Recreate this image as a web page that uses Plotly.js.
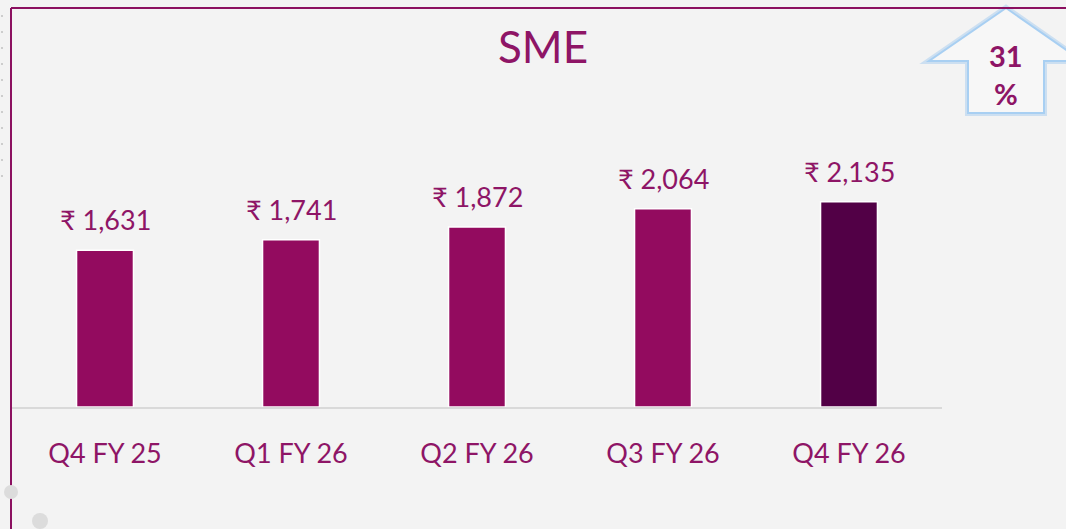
<!DOCTYPE html>
<html>
<head>
<meta charset="utf-8">
<script src="https://cdn.plot.ly/plotly-3.0.1.min.js"></script>
<style>html,body{margin:0;padding:0;background:#f3f3f3;}#chart{width:1066px;height:529px;}</style>
</head>
<body>
<div id="chart"></div>
<script>
const categories = ["Q4 FY 25", "Q1 FY 26", "Q2 FY 26", "Q3 FY 26", "Q4 FY 26"];
const values = [1631, 1741, 1872, 2064, 2135];
const barColors = ["#930B5F", "#930B5F", "#930B5F", "#930B5F", "#520046"];
const growthText = "31<br>%";
const titleText = "SME";

const W = 1066, H = 529;
const M = {l: 12, r: 124, t: 100, b: 122};
const pw = W - M.l - M.r, ph = H - M.t - M.b;
const px = x => (x - M.l) / pw;
const py = y => (H - M.b - y) / ph;

const purple = "#8E1566";
const font = "Lato, 'Noto Sans', 'DejaVu Sans', sans-serif";

const trace = {
  type: "bar",
  x: categories,
  y: values,
  marker: {color: barColors, line: {color: "#ffffff", width: 1.5}},
  hoverinfo: "none"
};

const annotations = categories.map((c, i) => ({
  x: c, y: values[i], xref: "x", yref: "y",
  text: "₹ " + values[i].toLocaleString("en-US"),
  showarrow: false, yanchor: "bottom", yshift: 12,
  font: {family: font, size: 27, color: purple}
}));

annotations.push({
  xref: "paper", yref: "paper", x: px(1006), y: py(75),
  text: "<b>" + growthText + "</b>", showarrow: false,
  xanchor: "center", yanchor: "middle", align: "center",
  font: {family: font, size: 29, color: purple}
});

function path(pts){ return "M" + pts.map(p => px(p[0]) + "," + py(p[1])).join(" L") + " Z"; }
const arrowPts = [[1006,8],[1082,61],[1044,61],[1044,113],[968,113],[968,61],[929,61]];

const shapes = [
  {type: "path", xref: "paper", yref: "paper", path: path(arrowPts),
   fillcolor: "rgba(0,0,0,0)", line: {color: "rgba(157,200,240,0.45)", width: 6}, layer: "above"},
  {type: "path", xref: "paper", yref: "paper", path: path(arrowPts),
   fillcolor: "#f7f7f7", line: {color: "#a8cff2", width: 2}, layer: "above"},
  {type: "line", xref: "paper", yref: "paper", x0: px(11), x1: px(1070), y0: py(8), y1: py(8),
   line: {color: "#8B1060", width: 2}},
  {type: "line", xref: "paper", yref: "paper", x0: px(11), x1: px(11), y0: py(8), y1: py(535),
   line: {color: "#8B1060", width: 2}},
  {type: "circle", xref: "paper", yref: "paper", x0: px(4), x1: px(18), y0: py(485), y1: py(499),
   fillcolor: "#dcdcdc", line: {width: 0}},
  {type: "circle", xref: "paper", yref: "paper", x0: px(32), x1: px(48), y0: py(513), y1: py(529),
   fillcolor: "#dcdcdc", line: {width: 0}}
];
for (let k = 0; k < 11; k++) {
  const yy = 16 + k * 16;
  shapes.push({type: "circle", xref: "paper", yref: "paper", x0: px(1), x1: px(3), y0: py(yy-1), y1: py(yy+1),
    fillcolor: "#c0c0c0", line: {width: 0}});
}

const layout = {
  width: W, height: H,
  margin: M,
  paper_bgcolor: "#f3f3f3",
  plot_bgcolor: "rgba(0,0,0,0)",
  showlegend: false,
  bargap: 0.694,
  title: {text: titleText, x: px(543), xref: "paper", xanchor: "center", y: 1 - 48/H, yanchor: "middle",
          font: {family: font, size: 44, color: purple}},
  xaxis: {
    type: "category",
    showline: true, linecolor: "#d9d9d9", linewidth: 2,
    showgrid: false, zeroline: false, ticks: "",
    ticklabelstandoff: 22,
    tickfont: {family: font, size: 27, color: purple}
  },
  yaxis: {
    range: [0, ph / 0.0961],
    visible: false, showgrid: false, zeroline: false, fixedrange: true
  },
  annotations: annotations,
  shapes: shapes
};

Plotly.newPlot("chart", [trace], layout, {staticPlot: true, displayModeBar: false});
</script>
</body>
</html>
